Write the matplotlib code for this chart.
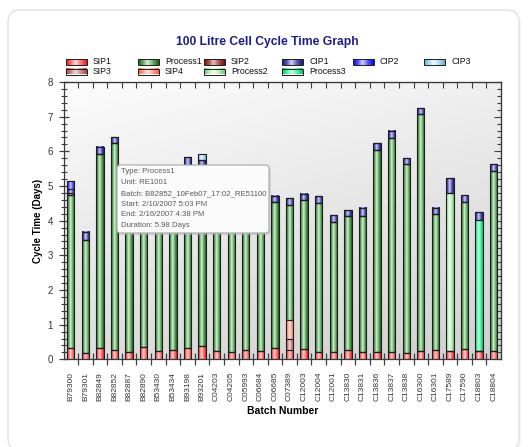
import matplotlib.pyplot as plt
import numpy as np
from matplotlib.colors import LinearSegmentedColormap
from matplotlib.patches import FancyBboxPatch, Rectangle
from matplotlib.ticker import MultipleLocator, NullFormatter

plt.rcParams["font.family"] = ["Liberation Sans", "DejaVu Sans"]

batches = ["B79300", "B79301", "B82849", "B82852", "B82887", "B82890", "B53430", "B53434",
           "B93198", "B93201", "C04203", "C04205", "C05993", "C06684", "C06685", "C07389",
           "C12003", "C12004", "C12001", "C13830", "C13831", "C13836", "C13837", "C13838",
           "C16300", "C16301", "C17589", "C17590", "C18803", "C18804"]

sip1 = [0.32, 0.19, 0.32, 0.27, 0.22, 0.35, 0.24, 0.26, 0.32, 0.38, 0.24, 0.22, 0.27, 0.23, 0.32,
        0.27, 0.29, 0.22, 0.22, 0.26, 0.22, 0.22, 0.22, 0.19, 0.23, 0.26, 0.24, 0.29, 0.24, 0.23]
sip3 = [0] * 15 + [0.31] + [0] * 14
sip4 = [0] * 15 + [0.54] + [0] * 14
process1 = [4.41, 3.25, 5.60, 5.98, 4.78, 4.85, 4.50, 4.79, 5.27, 5.20, 4.60, 4.88, 4.50, 4.40, 4.21,
            3.32, 4.30, 4.28, 3.75, 3.87, 3.90, 5.82, 6.16, 5.44, 6.84, 3.92, 0, 4.26, 0, 5.21]
process2 = [0] * 26 + [4.57, 0, 0, 0]
process3 = [0] * 28 + [3.78, 0]
sip2 = [0.08] + [0] * 29
cip1 = [0.10, 0.24, 0.21, 0.17, 0.18, 0.20, 0.19, 0.20, 0.25, 0.18, 0.19, 0.20, 0.20, 0.19, 0.19,
        0.20, 0.18, 0.20, 0.18, 0.17, 0.24, 0.19, 0.21, 0.17, 0.17, 0.19, 0.41, 0.19, 0.22, 0.19]
cip2 = [0.22] + [0] * 29
cip3 = [0] * 9 + [0.16] + [0] * 20

# stacking order (bottom to top)
series_names = ["SIP1", "SIP3", "SIP4", "Process1", "Process2", "Process3", "SIP2", "CIP1", "CIP2", "CIP3"]
series_values = [sip1, sip3, sip4, process1, process2, process3, sip2, cip1, cip2, cip3]

# edge, mid, highlight
series_colors = {
    "SIP1": ("#e81818", "#ff6a6a", "#ffd4d4"),
    "SIP3": ("#9a4848", "#c88484", "#f2d8d8"),
    "SIP4": ("#f05a48", "#ff9c8c", "#ffe6e0"),
    "Process1": ("#1c5e1c", "#5aa45a", "#d8f2d8"),
    "Process2": ("#6cbf6c", "#b8ecb8", "#f2fff2"),
    "Process3": ("#10b870", "#40f0a0", "#c8ffe4"),
    "SIP2": ("#7a1010", "#a84848", "#e8c0c0"),
    "CIP1": ("#1a1a78", "#5050b4", "#d4d4f8"),
    "CIP2": ("#0808e8", "#4848ff", "#d0d0ff"),
    "CIP3": ("#6aaed0", "#a8d8f0", "#eefaff"),
}

legend_rows = [["SIP1", "Process1", "SIP2", "CIP1", "CIP2", "CIP3"],
               ["SIP3", "SIP4", "Process2", "Process3"]]

tooltip_lines = ["Type: Process1", "Unit: RE1001", "Batch: B82852_10Feb07_17:02_RE51100",
                 "Start: 2/10/2007 5:03 PM", "End: 2/16/2007 4:38 PM", "Duration: 5.98 Days"]


def make_cmap(name):
    edge, mid, light = series_colors[name]
    return LinearSegmentedColormap.from_list(
        name, [(0, edge), (0.22, mid), (0.45, light), (0.75, mid), (1, edge)])


W, H = 529, 447
fig = plt.figure(figsize=(W / 100, H / 100), dpi=100)

# card behind the chart
bg = fig.add_axes([0, 0, 1, 1], zorder=-1)
bg.set_xlim(0, W)
bg.set_ylim(H, 0)
bg.axis("off")
bg.add_patch(FancyBboxPatch((10, 12), 511, 440, boxstyle="round,pad=0,rounding_size=12",
                            fc="#f4f4f4", ec="none"))
bg.add_patch(FancyBboxPatch((8, 10), 511, 440, boxstyle="round,pad=0,rounding_size=12",
                            fc="white", ec="#e2e2e2", lw=1))

ax = fig.add_axes([63.5 / W, 1 - 359.3 / H, 437.5 / W, 277.3 / H])

# plot area gradient background
gx, gy = np.meshgrid(np.linspace(0, 1, 64), np.linspace(0, 1, 64))
shade = 0.985 - 0.12 * gy - 0.05 * gx
ax.imshow(shade, cmap="gray", vmin=0, vmax=1, extent=(0, 1, 0, 1), transform=ax.transAxes,
          aspect="auto", zorder=0, interpolation="bilinear")

x = np.arange(len(batches))
bottom = np.zeros(len(batches))
grad = np.linspace(0, 1, 64).reshape(1, -1)
for name, vals in zip(series_names, series_values):
    vals = np.array(vals, dtype=float)
    bars = ax.bar(x, vals, bottom=bottom, width=0.5, color="none", edgecolor="#1e1e1e",
                  linewidth=0.8, zorder=3)
    cmap = make_cmap(name)
    for b in bars:
        if b.get_height() <= 0:
            continue
        x0, y0 = b.get_x(), b.get_y()
        ax.imshow(grad, cmap=cmap, extent=(x0, x0 + b.get_width(), y0, y0 + b.get_height()),
                  aspect="auto", zorder=2, interpolation="bilinear")
    bottom += vals

ax.set_xlim(-0.5, len(batches) - 0.5)
ax.set_ylim(0, 8)

ax.set_xticks(x)
ax.set_xticklabels(batches, rotation=90, fontsize=6, color="#333333")
ax.set_xticks(np.arange(0.5, len(batches) - 1, 1), minor=True)
ax.tick_params(axis="x", which="major", length=0, pad=9)
ax.tick_params(axis="x", which="minor", direction="inout", length=8, width=0.9, color="#404040")
ax.yaxis.set_major_locator(MultipleLocator(1))
ax.yaxis.set_minor_locator(MultipleLocator(0.2))
ax.tick_params(axis="y", which="major", direction="inout", length=7, width=0.9, color="#404040",
               labelsize=7, labelcolor="#333333", pad=4)
ax.tick_params(axis="y", which="minor", direction="inout", length=4, width=0.8, color="#404040")
for s in ax.spines.values():
    s.set_color("#3a3a3a")
    s.set_linewidth(0.9)

top = ax.secondary_xaxis("top")
top.set_xticks(np.arange(0.5, len(batches) - 1, 1))
top.xaxis.set_major_formatter(NullFormatter())
top.tick_params(direction="in", length=4, width=0.8, color="#404040")

right = ax.secondary_yaxis("right")
right.yaxis.set_major_locator(MultipleLocator(1))
right.yaxis.set_minor_locator(MultipleLocator(0.2))
right.yaxis.set_major_formatter(NullFormatter())
right.tick_params(which="major", direction="in", length=5, width=0.8, color="#404040")
right.tick_params(which="minor", direction="in", length=3, width=0.8, color="#404040")

ax.set_xlabel("Batch Number", fontsize=7.5, fontweight="bold", labelpad=3)
ax.set_ylabel("Cycle Time (Days)", fontsize=7, fontweight="bold", labelpad=3)

# overlay for title, legend and tooltip
ov = fig.add_axes([0, 0, 1, 1], zorder=10)
ov.set_xlim(0, W)
ov.set_ylim(H, 0)
ov.axis("off")
ov.patch.set_alpha(0)

ov.text(267, 42, "100 Litre Cell Cycle Time Graph", ha="center", va="center",
        fontsize=8.7, fontweight="bold", color="#1c1c8c")

col_x = [66, 138, 204, 282, 353, 424]
row_y = [62, 71.5]
for r, row in enumerate(legend_rows):
    for c, name in enumerate(row):
        sx, sy = col_x[c], row_y[r]
        ov.imshow(grad, cmap=make_cmap(name), extent=(sx, sx + 21, sy + 3, sy - 3),
                  aspect="auto", interpolation="bilinear", zorder=11)
        ov.add_patch(Rectangle((sx, sy - 3), 21, 6, fc="none", ec="#1e1e1e", lw=0.7, zorder=12))
        ov.text(sx + 27, sy, name, ha="left", va="center", fontsize=6.3, color="#111111")
ov.set_xlim(0, W)
ov.set_ylim(H, 0)

# tooltip
ov.add_patch(FancyBboxPatch((119, 167), 152, 68, boxstyle="round,pad=0,rounding_size=3",
                            fc="#bdbdbd", ec="none", alpha=0.5, zorder=12))
ov.add_patch(FancyBboxPatch((117, 165), 152, 68, boxstyle="round,pad=0,rounding_size=3",
                            fc="#fbfbfb", ec="#a8a8a8", lw=0.8, zorder=13))
for i, line in enumerate(tooltip_lines):
    ov.text(121, 171.7 + i * 10.8, line, ha="left", va="center", fontsize=5.6,
            color="#5a5a5a", zorder=14)

fig.savefig("out.png", dpi=100)
